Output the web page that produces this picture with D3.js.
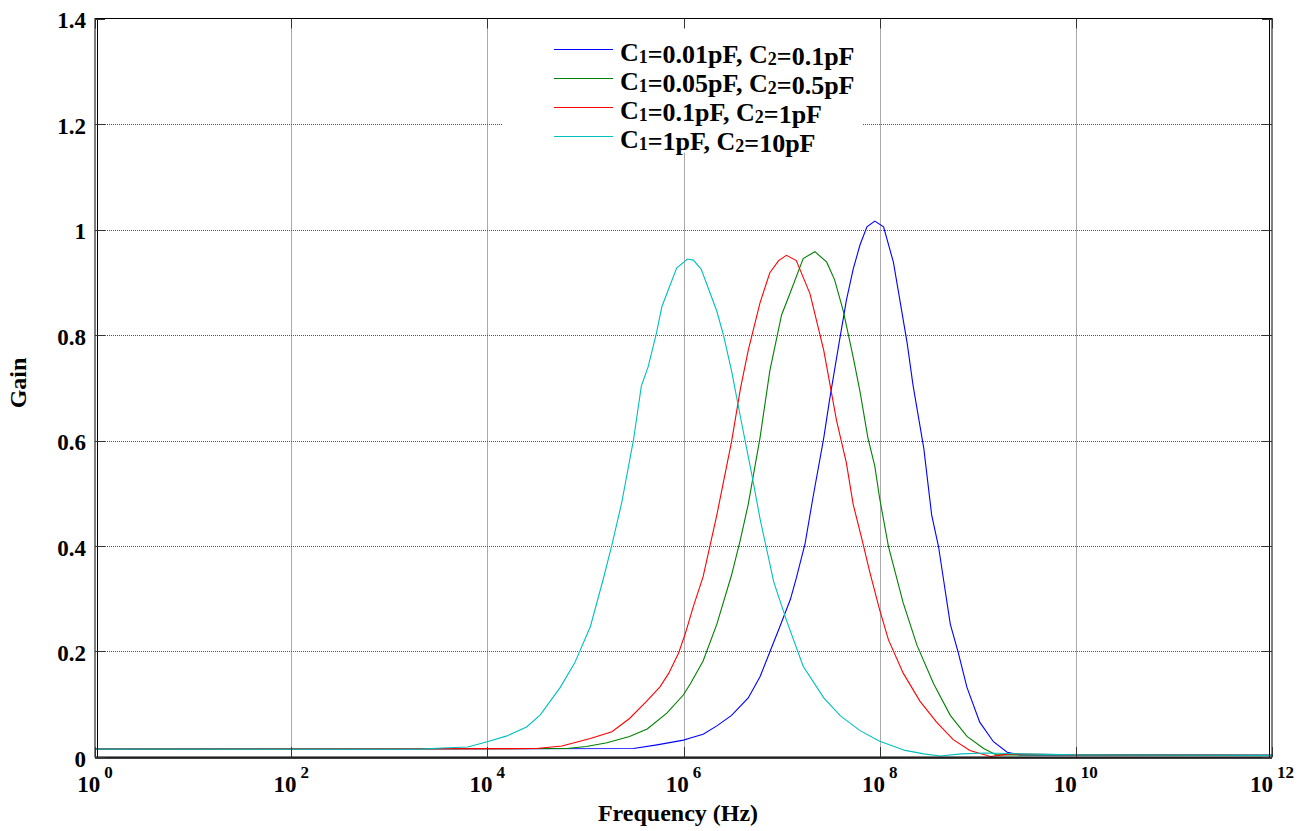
<!DOCTYPE html>
<html>
<head>
<meta charset="utf-8">
<script src="https://cdn.jsdelivr.net/npm/d3@7"></script>
<style>
  html, body { margin: 0; padding: 0; background: #fff; }
  svg { display: block; }
  text { font-family: "Liberation Serif", "Times New Roman", serif; font-weight: bold; fill: #000; }
</style>
</head>
<body>
<div id="chart"></div>
<script>
// Data: frequency as log10(Hz), gain
const seriesNames = ["C1=0.01pF, C2=0.1pF", "C1=0.05pF, C2=0.5pF", "C1=0.1pF, C2=1pF", "C1=1pF, C2=10pF"];
const seriesColors = ["#0000ff", "#008000", "#ff0000", "#00bfbf"];

const blueExp  = [0, 5.49, 5.73, 6.00, 6.07, 6.20, 6.34, 6.49, 6.66, 6.78, 6.88, 6.98, 7.09, 7.15, 7.24, 7.32, 7.43, 7.49, 7.58, 7.66, 7.73, 7.80, 7.87, 7.95, 8.04, 8.14, 8.28, 8.34, 8.45, 8.53, 8.60, 8.72, 8.80, 8.89, 9.02, 9.16, 9.30, 9.43, 12];
const blueGain = [0.015, 0.016, 0.023, 0.032, 0.036, 0.043, 0.059, 0.079, 0.112, 0.152, 0.199, 0.246, 0.299, 0.339, 0.405, 0.492, 0.605, 0.678, 0.778, 0.865, 0.925, 0.971, 1.005, 1.016, 1.005, 0.938, 0.785, 0.705, 0.585, 0.459, 0.399, 0.252, 0.199, 0.132, 0.066, 0.029, 0.009, 0.004, 0.003];

const greenExp  = [0, 4.81, 5.01, 5.22, 5.45, 5.63, 5.83, 6.00, 6.07, 6.20, 6.34, 6.49, 6.58, 6.66, 6.78, 6.88, 7.00, 7.09, 7.22, 7.34, 7.46, 7.54, 7.63, 7.73, 7.80, 7.88, 7.95, 8.00, 8.09, 8.24, 8.38, 8.55, 8.72, 8.89, 9.06, 9.19, 10, 12];
const greenGain = [0.015, 0.016, 0.020, 0.027, 0.039, 0.053, 0.083, 0.118, 0.139, 0.182, 0.252, 0.345, 0.412, 0.479, 0.605, 0.732, 0.838, 0.881, 0.945, 0.958, 0.938, 0.905, 0.845, 0.758, 0.692, 0.605, 0.552, 0.490, 0.399, 0.292, 0.212, 0.139, 0.079, 0.039, 0.016, 0.004, 0.004, 0.003];

const redExp  = [0, 4.50, 4.76, 5.05, 5.27, 5.45, 5.62, 5.76, 5.85, 5.95, 6.02, 6.10, 6.20, 6.34, 6.49, 6.58, 6.66, 6.78, 6.88, 6.97, 7.05, 7.15, 7.29, 7.43, 7.56, 7.66, 7.73, 7.82, 7.90, 8.00, 8.09, 8.24, 8.41, 8.58, 8.75, 8.92, 9.13, 9.33, 10, 12];
const redGain = [0.015, 0.016, 0.021, 0.035, 0.048, 0.073, 0.105, 0.133, 0.159, 0.197, 0.235, 0.285, 0.342, 0.459, 0.598, 0.698, 0.771, 0.861, 0.918, 0.941, 0.951, 0.941, 0.878, 0.771, 0.638, 0.558, 0.479, 0.412, 0.350, 0.279, 0.222, 0.159, 0.106, 0.066, 0.033, 0.0125, 0.001, 0.006, 0.004, 0.003];

const cyanExp  = [0, 3.30, 3.55, 3.80, 4.00, 4.20, 4.40, 4.54, 4.74, 4.89, 5.05, 5.18, 5.27, 5.37, 5.49, 5.57, 5.64, 5.72, 5.78, 5.93, 6.04, 6.10, 6.18, 6.34, 6.41, 6.49, 6.58, 6.70, 6.78, 6.92, 7.05, 7.22, 7.43, 7.60, 7.80, 8.00, 8.26, 8.45, 8.62, 8.83, 9.08, 9.46, 10, 12];
const cyanGain = [0.015, 0.015, 0.017, 0.019, 0.029, 0.040, 0.057, 0.080, 0.131, 0.178, 0.247, 0.336, 0.402, 0.482, 0.601, 0.703, 0.740, 0.800, 0.854, 0.927, 0.944, 0.942, 0.925, 0.845, 0.798, 0.732, 0.645, 0.532, 0.452, 0.332, 0.259, 0.172, 0.112, 0.078, 0.050, 0.030, 0.0125, 0.006, 0.002, 0.006, 0.0075, 0.006, 0.004, 0.003];

const xTickExp = [0, 2, 4, 6, 8, 10, 12];
const yTicks = [0, 0.2, 0.4, 0.6, 0.8, 1, 1.2, 1.4];
const xLabel = "Frequency (Hz)";
const yLabel = "Gain";

// Layout
const W = 1304, H = 831;
const M = { left: 95, right: 32, top: 18.5, bottom: 74 };
const iw = W - M.left - M.right, ih = H - M.top - M.bottom;

const x = d3.scaleLog().domain([1, 1e12]).range([M.left, M.left + iw]);
const y = d3.scaleLinear().domain([0, 1.4]).range([M.top + ih, M.top]);

const svg = d3.select("#chart").append("svg")
  .attr("width", W).attr("height", H);

// grid (dotted, matlab style)
const grid = svg.append("g").attr("stroke", "#555").attr("stroke-dasharray", "1,1").attr("stroke-width", 1);
grid.selectAll("line.gx").data(xTickExp.slice(1, -1)).join("line")
  .attr("x1", d => Math.round(x(10 ** d)) + 0.5).attr("x2", d => Math.round(x(10 ** d)) + 0.5)
  .attr("y1", M.top).attr("y2", M.top + ih);
grid.selectAll("line.gy").data(yTicks.slice(1, -1)).join("line")
  .attr("y1", d => Math.round(y(d)) + 0.5).attr("y2", d => Math.round(y(d)) + 0.5)
  .attr("x1", M.left).attr("x2", M.left + iw);

// curves
const seriesData = [
  blueExp.map((e, i) => [e, blueGain[i]]),
  greenExp.map((e, i) => [e, greenGain[i]]),
  redExp.map((e, i) => [e, redGain[i]]),
  cyanExp.map((e, i) => [e, cyanGain[i]])
];
const line = d3.line().x(d => x(10 ** d[0])).y(d => y(d[1]));
svg.append("g").selectAll("path").data(seriesData).join("path")
  .attr("fill", "none")
  .attr("stroke", (d, i) => seriesColors[i])
  .attr("stroke-width", 1.1)
  .attr("d", line);

// legend (white box hides grid behind it)
const lg = svg.append("g");
lg.append("rect").attr("x", 503).attr("y", M.top + 1).attr("width", 360).attr("height", 133).attr("fill", "#fff");
const rowY = i => 49 + i * 29;
seriesNames.forEach((name, i) => {
  lg.append("line").attr("x1", 554).attr("x2", 613).attr("y1", rowY(i) + 0.5).attr("y2", rowY(i) + 0.5)
    .attr("stroke", seriesColors[i]).attr("stroke-width", 1.1);
  const t = lg.append("text").attr("x", 620).attr("y", rowY(i) + 12).attr("font-size", 26);
  name.split(/(C\d)/).filter(s => s).forEach(part => {
    const m = part.match(/^C(\d)$/);
    if (m) {
      t.append("tspan").text("C");
      t.append("tspan").attr("font-size", 18).attr("dy", 2).text(m[1]);
      t.append("tspan").attr("dy", -2).text("");
    } else {
      t.append("tspan").text(part);
    }
  });
});

// frame + ticks
const fr = svg.append("g").attr("stroke", "#000").attr("fill", "none");
const L = M.left, R = M.left + iw, T = M.top, B = M.top + ih;
fr.append("rect").attr("x", L).attr("y", T).attr("width", iw).attr("height", ih).attr("stroke-width", 1);
fr.append("line").attr("x1", L + 2.5).attr("x2", L + 2.5).attr("y1", T).attr("y2", B);
fr.append("line").attr("x1", R - 2.5).attr("x2", R - 2.5).attr("y1", T).attr("y2", B);
fr.append("line").attr("x1", L).attr("x2", R).attr("y1", B + 1).attr("y2", B + 1).attr("stroke-width", 1.5);
const tk = 10;
xTickExp.forEach(e => {
  const px = Math.round(x(10 ** e)) + 0.5;
  fr.append("line").attr("x1", px).attr("x2", px).attr("y1", B).attr("y2", B - tk).attr("stroke", "#333");
  fr.append("line").attr("x1", px).attr("x2", px).attr("y1", T).attr("y2", T + tk).attr("stroke", "#333");
});
yTicks.forEach(v => {
  const py = Math.round(y(v)) + 0.5;
  fr.append("line").attr("y1", py).attr("y2", py).attr("x1", L).attr("x2", L + tk).attr("stroke", "#333");
  fr.append("line").attr("y1", py).attr("y2", py).attr("x1", R).attr("x2", R - tk).attr("stroke", "#333");
});

// tick labels
svg.append("g").selectAll("text").data(yTicks).join("text")
  .attr("x", 86).attr("y", d => y(d) + 9.5)
  .attr("text-anchor", "end").attr("font-size", 23)
  .text(d => d3.format("~g")(d));

const xl = svg.append("g").selectAll("text").data(xTickExp).join("text")
  .attr("x", d => x(10 ** d)).attr("y", 792)
  .attr("text-anchor", "middle").attr("font-size", 23);
xl.append("tspan").text("10");
xl.append("tspan").attr("dx", 4).attr("dy", -14).attr("font-size", 17).text(d => d);

// axis titles
svg.append("text").attr("x", 678).attr("y", 821).attr("text-anchor", "middle").attr("font-size", 24).text(xLabel);
svg.append("text").attr("transform", "translate(26,383) rotate(-90)").attr("text-anchor", "middle").attr("font-size", 24).text(yLabel);
</script>
</body>
</html>
